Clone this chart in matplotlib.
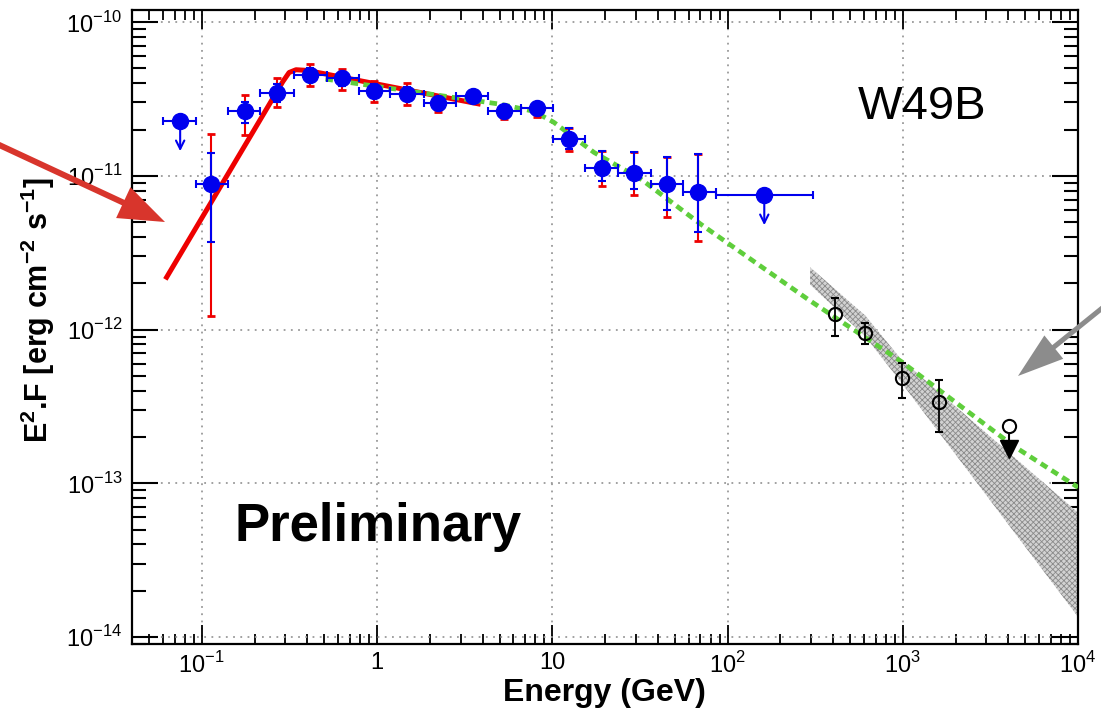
import numpy as np
import matplotlib
matplotlib.use("Agg")
import matplotlib.pyplot as plt
from matplotlib.patches import FancyArrow
from matplotlib.transforms import IdentityTransform
from matplotlib.ticker import FixedLocator, FixedFormatter, LogLocator, NullFormatter

plt.rcParams["font.family"] = ["Liberation Sans", "DejaVu Sans"]
plt.rcParams["mathtext.fontset"] = "custom"
plt.rcParams["mathtext.rm"] = "Liberation Sans"
plt.rcParams["mathtext.bf"] = "Liberation Sans:bold"
plt.rcParams["hatch.color"] = "#808080"
plt.rcParams["hatch.linewidth"] = 0.6

# --- Fermi-LAT points (E in GeV, E^2 F in erg cm^-2 s^-1) ---
fermi_edges = [0.060, 0.093, 0.142, 0.216, 0.334, 0.521, 0.784, 1.19, 1.85, 2.81,
               4.28, 6.60, 10.1, 15.3, 23.7, 36.5, 55.7, 85.9, 308]
fermi_E = [0.0753, 0.113, 0.177, 0.27, 0.417, 0.635, 0.955, 1.49, 2.24, 3.51,
           5.28, 8.15, 12.4, 19.2, 29.2, 45.0, 67.8, 162]
fermi_F = [2.26e-11, 8.8e-12, 2.63e-11, 3.44e-11, 4.52e-11, 4.31e-11, 3.55e-11, 3.4e-11,
           2.96e-11, 3.3e-11, 2.63e-11, 2.75e-11, 1.73e-11, 1.13e-11, 1.05e-11, 8.8e-12,
           7.9e-12, 7.46e-12]
fermi_ul = [True] + [False] * 16 + [True]
stat_lo = [np.nan, 3.69e-12, 2.2e-11, 3.0e-11, 4.05e-11, 3.85e-11, 3.2e-11, 3.05e-11,
           2.7e-11, 3.1e-11, 2.4e-11, 2.5e-11, 1.5e-11, 9.2e-12, 8.2e-12, 6.0e-12, 4.3e-12, np.nan]
stat_hi = [np.nan, 1.40e-11, 3.0e-11, 3.95e-11, 5.0e-11, 4.75e-11, 3.95e-11, 3.8e-11,
           3.2e-11, 3.5e-11, 2.8e-11, 3.0e-11, 2.04e-11, 1.44e-11, 1.42e-11, 1.32e-11, 1.38e-11, np.nan]
sys_lo = [np.nan, 1.23e-12, 1.84e-11, 2.79e-11, 3.83e-11, 3.6e-11, 3.01e-11, 2.9e-11,
          2.6e-11, 3.0e-11, 2.33e-11, 2.4e-11, 1.44e-11, 8.55e-12, 7.46e-12, 5.37e-12, 3.74e-12, np.nan]
sys_hi = [np.nan, 1.86e-11, 3.34e-11, 4.31e-11, 5.32e-11, 4.94e-11, 4.13e-11, 4.0e-11,
          3.3e-11, 3.55e-11, 2.84e-11, 3.01e-11, 2.04e-11, 1.44e-11, 1.42e-11, 1.32e-11, 1.38e-11, np.nan]

# --- H.E.S.S. points ---
hess_E = [411, 611, 993, 1617]
hess_F = [1.27e-12, 9.56e-13, 4.87e-13, 3.4e-13]
hess_lo = [9.14e-13, 8.11e-13, 3.61e-13, 2.17e-13]
hess_hi = [1.61e-12, 1.11e-12, 6.09e-13, 4.72e-13]
hess_ul_E = [4010]
hess_ul_F = [2.37e-13]

# --- H.E.S.S. butterfly ---
band_E = [296, 611, 980, 1.0e4]
band_lo = [1.96e-12, 9.0e-13, 4.52e-13, 1.35e-14]
band_hi = [2.54e-12, 1.23e-12, 6.38e-13, 6.43e-14]

# --- fitted models ---
lat_fit_E = [0.062, 0.29, 0.315, 0.345, 0.40, 3.9]
lat_fit_F = [2.12e-12, 4.1e-11, 4.7e-11, 4.9e-11, 4.85e-11, 2.92e-11]
model_E = [0.508, 1.70, 5.08, 7.84, 10.2, 17.3, 32.1, 70.6, 288, 980, 4340, 1.0e4]
model_F = [4.26e-11, 3.5e-11, 2.92e-11, 2.63e-11, 2.23e-11, 1.42e-11, 9.5e-12,
           4.83e-12, 1.57e-12, 6.19e-13, 1.73e-13, 9.4e-14]

x_ticks = [1e-1, 1, 10, 1e2, 1e3, 1e4]
x_labels = [r"$10^{-1}$", "1", "10", r"$10^{2}$", r"$10^{3}$", r"$10^{4}$"]
y_ticks = [1e-14, 1e-13, 1e-12, 1e-11, 1e-10]
y_labels = [r"$10^{-14}$", r"$10^{-13}$", r"$10^{-12}$", r"$10^{-11}$", r"$10^{-10}$"]

fig = plt.figure(figsize=(11.01, 7.16), dpi=100)
ax = fig.add_axes([0.1199, 0.1006, 0.8593, 0.8855])
ax.set_xscale("log")
ax.set_yscale("log")
ax.set_xlim(0.04, 1.0e4)
ax.set_ylim(9.0e-15, 1.2e-10)

ax.fill_between(band_E, band_lo, band_hi, facecolor="#d2d2d2", edgecolor="#8a8a8a",
                hatch="xxxxxx", linewidth=0, zorder=2)
ax.plot(lat_fit_E, lat_fit_F, color="#ee0000", lw=3.6, solid_capstyle="butt", zorder=3)
ax.plot(model_E, model_F, color="#5fce3c", lw=3.4, dashes=(1.6, 1.1), zorder=3.5)

E = np.array(fermi_E)
F = np.array(fermi_F)
edges = np.array(fermi_edges)
ul = np.array(fermi_ul)
det = ~ul
xerr = np.vstack([E - edges[:-1], edges[1:] - E])

ax.errorbar(E[det], F[det],
            yerr=[F[det] - np.array(sys_lo)[det], np.array(sys_hi)[det] - F[det]],
            fmt="none", ecolor="#ee0000", elinewidth=1.5, capsize=3, capthick=2, zorder=4)
ax.errorbar(E[det], F[det], xerr=xerr[:, det],
            yerr=[F[det] - np.array(stat_lo)[det], np.array(stat_hi)[det] - F[det]],
            fmt="o", color="#0000ee", ms=11.5, elinewidth=1.5, capsize=3, capthick=1.5, zorder=5)
ax.errorbar(E[ul], F[ul], xerr=xerr[:, ul], fmt="o", color="#0000ee", ms=11.5,
            elinewidth=1.5, capsize=3, capthick=1.5, zorder=5)
for e, f in zip(E[ul], F[ul]):
    ax.annotate("", xy=(e, f * 0.64), xytext=(e, f),
                arrowprops=dict(arrowstyle="->,head_length=0.6,head_width=0.3",
                                color="#0000ee", lw=1.5, shrinkA=0, shrinkB=0), zorder=5)

hE = np.array(hess_E)
hF = np.array(hess_F)
ax.errorbar(hE, hF, yerr=[hF - np.array(hess_lo), np.array(hess_hi) - hF], fmt="o",
            mfc="none", mec="black", mew=1.5, ms=9.5, ecolor="black", elinewidth=1.3,
            capsize=3, capthick=1.3, zorder=6)
for e, f in zip(hess_ul_E, hess_ul_F):
    ax.plot([e, e], [f, f * 0.68], color="black", lw=1.5, zorder=6)
    ax.plot([e], [f * 0.70], marker="v", color="black", ms=13, zorder=6)
    ax.plot([e], [f], marker="o", mfc="white", mec="black", mew=1.5, ms=9.5, zorder=7)

# axes styling (ROOT-like frame)
ax.xaxis.set_major_locator(FixedLocator(x_ticks))
ax.xaxis.set_major_formatter(FixedFormatter(x_labels))
ax.yaxis.set_major_locator(FixedLocator(y_ticks))
ax.yaxis.set_major_formatter(FixedFormatter(y_labels))
ax.xaxis.set_minor_locator(LogLocator(base=10, subs=np.arange(2, 10), numticks=20))
ax.yaxis.set_minor_locator(LogLocator(base=10, subs=np.arange(2, 10), numticks=20))
ax.xaxis.set_minor_formatter(NullFormatter())
ax.yaxis.set_minor_formatter(NullFormatter())
ax.tick_params(axis="y", which="major", direction="in", length=19, width=1.5,
               left=True, right=True, labelsize=17, pad=7)
ax.tick_params(axis="y", which="minor", direction="in", length=10, width=1.5,
               left=True, right=True)
ax.tick_params(axis="x", which="major", direction="in", length=14, width=1.3,
               top=True, bottom=True, labelsize=17, pad=6)
ax.tick_params(axis="x", which="minor", direction="in", length=7, width=1.3,
               top=True, bottom=True)
for s in ax.spines.values():
    s.set_linewidth(1.6)
ax.grid(True, which="major", linestyle=(0, (1, 3)), color="#9a9a9a", linewidth=1.3, zorder=0)
ax.set_axisbelow(True)

ax.text(0.835, 0.847, "W49B", transform=ax.transAxes, fontsize=34,
        ha="center", va="center")
ax.text(0.260, 0.1845, "Preliminary", transform=ax.transAxes, fontsize=38,
        fontweight="bold", ha="center", va="center")

fig.text(38 / 1101, 1 - 310 / 716,
         r"E$^{\mathbf{2}}$.F [erg cm$^{\mathbf{-2}}$ s$^{\mathbf{-1}}$]",
         rotation=90, fontsize=22, fontweight="bold", ha="center", va="center")
fig.text(604 / 1101, 1 - 693 / 716, "Energy (GeV)", fontsize=23, fontweight="bold",
         ha="center", va="center")

# pointer arrows (in figure pixels)
fig.add_artist(FancyArrow(-5, 573, 170, -79, width=6, head_width=34, head_length=46,
                          length_includes_head=True, color="#d8352c", lw=0,
                          transform=IdentityTransform()))
fig.add_artist(FancyArrow(1106, 411, -88, -71, width=5, head_width=30, head_length=46,
                          length_includes_head=True, color="#8c8c8c", lw=0,
                          transform=IdentityTransform()))

fig.savefig("out.png", dpi=100)
